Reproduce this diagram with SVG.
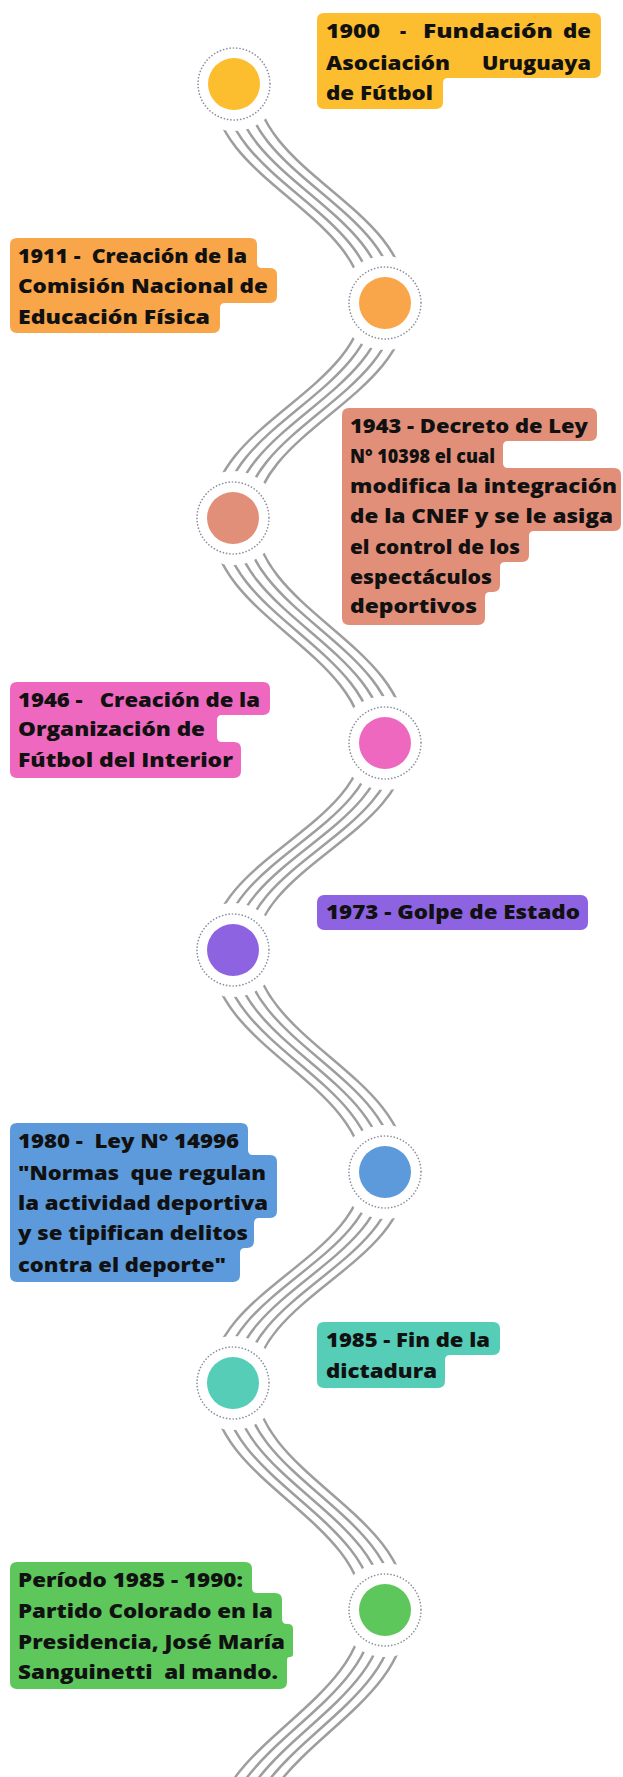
<svg xmlns="http://www.w3.org/2000/svg" width="623" height="1777" viewBox="0 0 623 1777">
<style>
.ln{fill:none;stroke:#9e9e9e;stroke-width:2.5;stroke-linecap:round}
.mask{fill:#fff}
.ring{fill:none;stroke:#8c90a0;stroke-width:1.7;stroke-linecap:round;stroke-dasharray:0.01 3.3}
text{font-family:"Open Sans","Liberation Sans",sans-serif;font-weight:800;font-size:19px;fill:#111;white-space:pre}
.y{fill:#FCBD2F}.o{fill:#F9A64B}.s{fill:#E18F79}.p{fill:#EF68BF}.u{fill:#8E63E2}.b{fill:#5C9ADB}.t{fill:#55CDB7}.g{fill:#5DC75C}
</style>
<rect width="623" height="1777" fill="#fff"/>
<g id="connectors" class="ln">
  <g id="seg1"><path d="M234,84 C234,176 385,211 385,303" transform="translate(-21,4)"/><path d="M234,84 C234,176 385,211 385,303" transform="translate(-10.5,2)"/><path d="M234,84 C234,176 385,211 385,303"/><path d="M234,84 C234,176 385,211 385,303" transform="translate(10.5,-2)"/><path d="M234,84 C234,176 385,211 385,303" transform="translate(21,-4)"/></g>
  <g id="seg2"><path d="M385,303 C385,393 233,428 233,518" transform="translate(-21,-4)"/><path d="M385,303 C385,393 233,428 233,518" transform="translate(-10.5,-2)"/><path d="M385,303 C385,393 233,428 233,518"/><path d="M385,303 C385,393 233,428 233,518" transform="translate(10.5,2)"/><path d="M385,303 C385,393 233,428 233,518" transform="translate(21,4)"/></g>
  <g id="seg3"><path d="M233,518 C233,613 385,648 385,743" transform="translate(-21,4)"/><path d="M233,518 C233,613 385,648 385,743" transform="translate(-10.5,2)"/><path d="M233,518 C233,613 385,648 385,743"/><path d="M233,518 C233,613 385,648 385,743" transform="translate(10.5,-2)"/><path d="M233,518 C233,613 385,648 385,743" transform="translate(21,-4)"/></g>
  <g id="seg4"><path d="M385,743 C385,830 233,863 233,950" transform="translate(-21,-4)"/><path d="M385,743 C385,830 233,863 233,950" transform="translate(-10.5,-2)"/><path d="M385,743 C385,830 233,863 233,950"/><path d="M385,743 C385,830 233,863 233,950" transform="translate(10.5,2)"/><path d="M385,743 C385,830 233,863 233,950" transform="translate(21,4)"/></g>
  <g id="seg5"><path d="M233,950 C233,1043 385,1079 385,1172" transform="translate(-21,4)"/><path d="M233,950 C233,1043 385,1079 385,1172" transform="translate(-10.5,2)"/><path d="M233,950 C233,1043 385,1079 385,1172"/><path d="M233,950 C233,1043 385,1079 385,1172" transform="translate(10.5,-2)"/><path d="M233,950 C233,1043 385,1079 385,1172" transform="translate(21,-4)"/></g>
  <g id="seg6"><path d="M385,1172 C385,1261 233,1294 233,1383" transform="translate(-21,-4)"/><path d="M385,1172 C385,1261 233,1294 233,1383" transform="translate(-10.5,-2)"/><path d="M385,1172 C385,1261 233,1294 233,1383"/><path d="M385,1172 C385,1261 233,1294 233,1383" transform="translate(10.5,2)"/><path d="M385,1172 C385,1261 233,1294 233,1383" transform="translate(21,4)"/></g>
  <g id="seg7"><path d="M233,1383 C233,1478 385,1515 385,1610" transform="translate(-21,4)"/><path d="M233,1383 C233,1478 385,1515 385,1610" transform="translate(-10.5,2)"/><path d="M233,1383 C233,1478 385,1515 385,1610"/><path d="M233,1383 C233,1478 385,1515 385,1610" transform="translate(10.5,-2)"/><path d="M233,1383 C233,1478 385,1515 385,1610" transform="translate(21,-4)"/></g>
  <g id="seg8"><path d="M385,1610 C385,1709 233,1746 233,1845" transform="translate(-21,-4)"/><path d="M385,1610 C385,1709 233,1746 233,1845" transform="translate(-10.5,-2)"/><path d="M385,1610 C385,1709 233,1746 233,1845"/><path d="M385,1610 C385,1709 233,1746 233,1845" transform="translate(10.5,2)"/><path d="M385,1610 C385,1709 233,1746 233,1845" transform="translate(21,4)"/></g>
</g>

<g id="n1900">
  <circle class="mask" cx="234" cy="84" r="47"/><circle class="ring" cx="234" cy="84" r="36"/><circle class="y" cx="234" cy="84" r="26"/>
  <path class="y" d="M324,13 H594 Q601,13 601,20 V71 Q601,78 594,78 H448 Q443,78 443,83 V102 Q443,109 436,109 H324 Q317,109 317,102 V20 Q317,13 324,13 Z"/>
  <text x="326" y="38" textLength="54" lengthAdjust="spacingAndGlyphs">1900</text>
  <text x="400" y="38">-</text>
  <text x="423" y="38" textLength="130" lengthAdjust="spacingAndGlyphs">Fundación</text>
  <text x="563" y="38" textLength="28" lengthAdjust="spacingAndGlyphs">de</text>
  <text x="326" y="70" textLength="124" lengthAdjust="spacingAndGlyphs">Asociación</text>
  <text x="482" y="70" textLength="109" lengthAdjust="spacingAndGlyphs">Uruguaya</text>
  <text x="326" y="100" textLength="107" lengthAdjust="spacingAndGlyphs">de Fútbol</text>
</g>

<g id="n1911">
  <circle class="mask" cx="385" cy="303" r="47"/><circle class="ring" cx="385" cy="303" r="36"/><circle class="o" cx="385" cy="303" r="26"/>
  <path class="o" d="M17,238 H250 Q257,238 257,245 V263 Q257,268 262,268 H270 Q277,268 277,275 V296 Q277,303 270,303 H225 Q220,303 220,308 V326 Q220,333 213,333 H17 Q10,333 10,326 V245 Q10,238 17,238 Z"/>
  <text x="18" y="263" textLength="229" lengthAdjust="spacingAndGlyphs">1911 -  Creación de la</text>
  <text x="18" y="293" textLength="250" lengthAdjust="spacingAndGlyphs">Comisión Nacional de</text>
  <text x="18" y="324" textLength="192" lengthAdjust="spacingAndGlyphs">Educación Física</text>
</g>

<g id="n1943">
  <circle class="mask" cx="233" cy="518" r="47"/><circle class="ring" cx="233" cy="518" r="36"/><circle class="s" cx="233" cy="518" r="26"/>
  <path class="s" d="M349,408 H590 Q597,408 597,415 V434 Q597,441 590,441 H508 Q503,441 503,446 V463 Q503,468 508,468 H614 Q621,468 621,475 V524 Q621,531 614,531 H534 Q529,531 529,536 V555 Q529,562 522,562 H505 Q500,562 500,567 V585 Q500,592 493,592 H490 Q485,592 485,597 V618 Q485,625 478,625 H349 Q342,625 342,618 V415 Q342,408 349,408 Z"/>
  <text x="350" y="433" textLength="238" lengthAdjust="spacingAndGlyphs">1943 - Decreto de Ley</text>
  <text x="350" y="463" textLength="145" lengthAdjust="spacingAndGlyphs">N° 10398 el cual</text>
  <text x="350" y="493" textLength="267" lengthAdjust="spacingAndGlyphs">modifica la integración</text>
  <text x="350" y="523" textLength="263" lengthAdjust="spacingAndGlyphs">de la CNEF y se le asiga</text>
  <text x="350" y="554" textLength="170" lengthAdjust="spacingAndGlyphs">el control de los</text>
  <text x="350" y="584" textLength="142" lengthAdjust="spacingAndGlyphs">espectáculos</text>
  <text x="350" y="613" textLength="127" lengthAdjust="spacingAndGlyphs">deportivos</text>
</g>

<g id="n1946">
  <circle class="mask" cx="385" cy="743" r="47"/><circle class="ring" cx="385" cy="743" r="36"/><circle class="p" cx="385" cy="743" r="26"/>
  <path class="p" d="M17,682 H263 Q270,682 270,689 V708 Q270,715 263,715 H222 Q217,715 217,720 V737 Q217,742 222,742 H234 Q241,742 241,749 V771 Q241,778 234,778 H17 Q10,778 10,771 V689 Q10,682 17,682 Z"/>
  <text x="18" y="707" textLength="242" lengthAdjust="spacingAndGlyphs">1946 -   Creación de la</text>
  <text x="18" y="736" textLength="187" lengthAdjust="spacingAndGlyphs">Organización de</text>
  <text x="18" y="767" textLength="215" lengthAdjust="spacingAndGlyphs">Fútbol del Interior</text>
</g>

<g id="n1973">
  <circle class="mask" cx="233" cy="950" r="47"/><circle class="ring" cx="233" cy="950" r="36"/><circle class="u" cx="233" cy="950" r="26"/>
  <rect class="u" x="317" y="895" width="271" height="35" rx="7"/>
  <text x="326" y="919" textLength="254" lengthAdjust="spacingAndGlyphs">1973 - Golpe de Estado</text>
</g>

<g id="n1980">
  <circle class="mask" cx="385" cy="1172" r="47"/><circle class="ring" cx="385" cy="1172" r="36"/><circle class="b" cx="385" cy="1172" r="26"/>
  <path class="b" d="M17,1123 H241 Q248,1123 248,1130 V1150 Q248,1155 253,1155 H270 Q277,1155 277,1162 V1211 Q277,1218 270,1218 H259 Q254,1218 254,1223 V1241 Q254,1248 247,1248 H245 Q240,1248 240,1253 V1275 Q240,1282 233,1282 H17 Q10,1282 10,1275 V1130 Q10,1123 17,1123 Z"/>
  <text x="18" y="1148" textLength="221" lengthAdjust="spacingAndGlyphs">1980 -  Ley N° 14996</text>
  <text x="18" y="1180" textLength="248" lengthAdjust="spacingAndGlyphs">"Normas  que regulan</text>
  <text x="18" y="1210" textLength="250" lengthAdjust="spacingAndGlyphs">la actividad deportiva</text>
  <text x="18" y="1240" textLength="230" lengthAdjust="spacingAndGlyphs">y se tipifican delitos</text>
  <text x="18" y="1272" textLength="208" lengthAdjust="spacingAndGlyphs">contra el deporte"</text>
</g>

<g id="n1985">
  <circle class="mask" cx="233" cy="1383" r="47"/><circle class="ring" cx="233" cy="1383" r="36"/><circle class="t" cx="233" cy="1383" r="26"/>
  <path class="t" d="M324,1322 H493 Q500,1322 500,1329 V1348 Q500,1355 493,1355 H450 Q445,1355 445,1360 V1381 Q445,1388 438,1388 H324 Q317,1388 317,1381 V1329 Q317,1322 324,1322 Z"/>
  <text x="326" y="1347" textLength="164" lengthAdjust="spacingAndGlyphs">1985 - Fin de la</text>
  <text x="326" y="1378" textLength="111" lengthAdjust="spacingAndGlyphs">dictadura</text>
</g>

<g id="n1990">
  <circle class="mask" cx="385" cy="1610" r="47"/><circle class="ring" cx="385" cy="1610" r="36"/><circle class="g" cx="385" cy="1610" r="26"/>
  <path class="g" d="M17,1562 H245 Q252,1562 252,1569 V1588 Q252,1593 257,1593 H275 Q282,1593 282,1600 V1619 Q282,1624 287,1624 H288 Q293,1624 293,1629 V1654 Q293,1657 290,1657 Q287,1657 287,1660 V1682 Q287,1689 280,1689 H17 Q10,1689 10,1682 V1569 Q10,1562 17,1562 Z"/>
  <text x="18" y="1587" textLength="225" lengthAdjust="spacingAndGlyphs">Período 1985 - 1990:</text>
  <text x="18" y="1618" textLength="255" lengthAdjust="spacingAndGlyphs">Partido Colorado en la</text>
  <text x="18" y="1649" textLength="267" lengthAdjust="spacingAndGlyphs">Presidencia, José María</text>
  <text x="18" y="1679" textLength="260" lengthAdjust="spacingAndGlyphs">Sanguinetti  al mando.</text>
</g>
</svg>
